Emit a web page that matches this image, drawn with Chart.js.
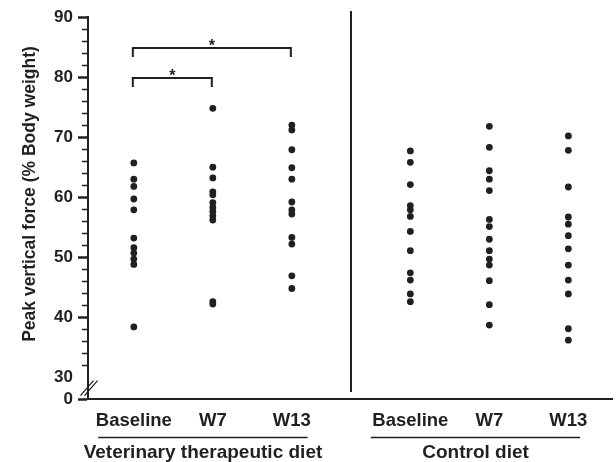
<!DOCTYPE html>
<html>
<head>
<meta charset="utf-8">
<script src="https://cdn.jsdelivr.net/npm/chart.js@4.4.0/dist/chart.umd.min.js"></script>
<style>
  html, body { margin: 0; padding: 0; background: #fff; }
  #wrap { width: 616px; height: 462px; }
</style>
</head>
<body>
<div id="wrap"><canvas id="chart"></canvas></div>
<script>
// categories and their x positions on the linear axis
const categories = ['Baseline', 'W7', 'W13', 'Baseline', 'W7', 'W13'];
const categoryX = [1, 2, 3, 4.5, 5.5, 6.5];
const groupLabels = ['Veterinary therapeutic diet', 'Control diet'];
const groupSpans = [[0.55, 3.2], [4.0, 6.65]];

// peak vertical force, % body weight
const vetBaseline = [65.7, 63.0, 61.8, 59.7, 57.9, 53.2, 51.6, 50.7, 49.7, 48.8, 38.4];
const vetW7 = [74.8, 65.0, 63.2, 60.9, 60.4, 59.1, 58.3, 57.6, 56.9, 56.2, 42.6, 42.2];
const vetW13 = [72.0, 71.2, 67.9, 64.9, 63.0, 59.2, 57.9, 57.2, 53.3, 52.2, 46.9, 44.8];
const ctrlBaseline = [67.7, 65.8, 62.1, 58.6, 57.9, 56.8, 54.3, 51.1, 47.4, 46.2, 43.9, 42.6];
const ctrlW7 = [71.8, 68.3, 64.4, 63.0, 61.1, 56.3, 55.1, 53.0, 51.1, 49.7, 48.7, 46.1, 42.1, 38.7];
const ctrlW13 = [70.2, 67.8, 61.7, 56.7, 55.5, 53.6, 51.4, 48.7, 46.2, 43.9, 38.1, 36.2];
const series = [vetBaseline, vetW7, vetW13, ctrlBaseline, ctrlW7, ctrlW13];

// y axis: 30..90 with a break down to 0
const yTicks = [30, 40, 50, 60, 70, 80, 90];
const yMinorStep = 2;
const yBreakValue = 26.4;   // where the "0" sits below the break

// significance brackets (index into categories)
const brackets = [
    { from: 0, to: 2, level: 84.8, label: '*' },
    { from: 0, to: 1, level: 79.9, label: '*' }
];

const INK = '#231f20';
const FONT = '"Liberation Sans", Arial, sans-serif';

const points = [];
series.forEach((values, i) => {
    values.forEach(v => points.push({ x: categoryX[i], y: v }));
});

const extras = {
    id: 'extras',
    afterDraw(chart) {
        const { ctx, chartArea: area, scales: { x, y } } = chart;
        ctx.save();
        ctx.strokeStyle = INK;
        ctx.fillStyle = INK;

        // minor ticks on y
        ctx.lineWidth = 1.5;
        for (let v = yTicks[0] + yMinorStep; v < yTicks[yTicks.length - 1]; v += yMinorStep) {
            if (v % 10 === 0) continue;
            const py = Math.round(y.getPixelForValue(v)) + 0.5;
            ctx.beginPath();
            ctx.moveTo(area.left - 6, py);
            ctx.lineTo(area.left, py);
            ctx.stroke();
        }

        // axis break
        const midY = (y.getPixelForValue(yTicks[0]) + y.getPixelForValue(yBreakValue)) / 2;
        ctx.lineWidth = 1.3;
        [-1, 3].forEach(off => {
            ctx.beginPath();
            ctx.moveTo(area.left + off - 6.5, midY + 7.5);
            ctx.lineTo(area.left + off + 6.5, midY - 7.5);
            ctx.stroke();
        });

        // group divider
        const dx = Math.round(x.getPixelForValue(3.75));
        ctx.lineWidth = 2;
        ctx.beginPath();
        ctx.moveTo(dx, area.top - 6);
        ctx.lineTo(dx, area.bottom - 7);
        ctx.stroke();

        // brackets
        ctx.font = 'bold 16px ' + FONT;
        ctx.textAlign = 'center';
        ctx.textBaseline = 'alphabetic';
        brackets.forEach(b => {
            const x1 = x.getPixelForValue(categoryX[b.from]) - 1;
            const x2 = x.getPixelForValue(categoryX[b.to]) - 1;
            const py = Math.round(y.getPixelForValue(b.level));
            ctx.lineWidth = 2;
            ctx.beginPath();
            ctx.moveTo(x1, py + 9);
            ctx.lineTo(x1, py);
            ctx.lineTo(x2, py);
            ctx.lineTo(x2, py + 9);
            ctx.stroke();
            ctx.fillText(b.label, (x1 + x2) / 2, py + 3);
        });

        // group labels with underline
        ctx.font = 'bold 19px ' + FONT;
        ctx.textBaseline = 'middle';
        groupLabels.forEach((label, i) => {
            const a = x.getPixelForValue(groupSpans[i][0]);
            const b = x.getPixelForValue(groupSpans[i][1]);
            ctx.lineWidth = 1.5;
            ctx.beginPath();
            ctx.moveTo(a, 437.5);
            ctx.lineTo(b, 437.5);
            ctx.stroke();
            ctx.fillText(label, (a + b) / 2, 453);
        });

        // y axis title
        ctx.font = 'bold 17.5px ' + FONT;
        ctx.translate(30, 194);
        ctx.rotate(-Math.PI / 2);
        ctx.fillText('Peak vertical force (% Body weight)', 0, 0);
        ctx.restore();
    }
};

new Chart(document.getElementById('chart'), {
    type: 'scatter',
    data: {
        datasets: [{
            data: points,
            pointRadius: 3.4,
            pointHoverRadius: 3.4,
            backgroundColor: INK,
            borderWidth: 0
        }]
    },
    options: {
        responsive: true,
        maintainAspectRatio: false,
        animation: false,
        layout: { padding: { top: 17, right: 0, left: 0, bottom: 0 } },
        plugins: { legend: { display: false }, tooltip: { enabled: false } },
        scales: {
            x: {
                type: 'linear',
                min: 0.42,
                max: 7.06,
                afterBuildTicks: s => { s.ticks = categoryX.map(v => ({ value: v })); },
                afterFit: s => { s.height = 63; },
                grid: { display: false, drawTicks: false },
                border: { display: true, color: INK, width: 2 },
                ticks: {
                    callback: (v, i) => categories[i],
                    color: INK,
                    font: { family: FONT, size: 18.5, weight: 'bold' },
                    padding: 11,
                    maxRotation: 0,
                    autoSkip: false
                }
            },
            y: {
                type: 'linear',
                min: yBreakValue,
                max: 90,
                afterBuildTicks: s => { s.ticks = [yBreakValue].concat(yTicks).map(v => ({ value: v })); },
                afterFit: s => { s.width = 88; },
                grid: {
                    drawOnChartArea: false,
                    drawTicks: true,
                    tickLength: 10,
                    tickWidth: 2.5,
                    tickColor: c => (c.tick && c.tick.value === yTicks[0]) ? 'rgba(0,0,0,0)' : INK
                },
                border: { display: true, color: INK, width: 2 },
                ticks: {
                    callback: v => v === yBreakValue ? '0' : String(v),
                    color: INK,
                    font: { family: FONT, size: 17, weight: 'bold' },
                    padding: 5,
                    autoSkip: false
                }
            }
        }
    },
    plugins: [extras]
});
</script>
</body>
</html>
